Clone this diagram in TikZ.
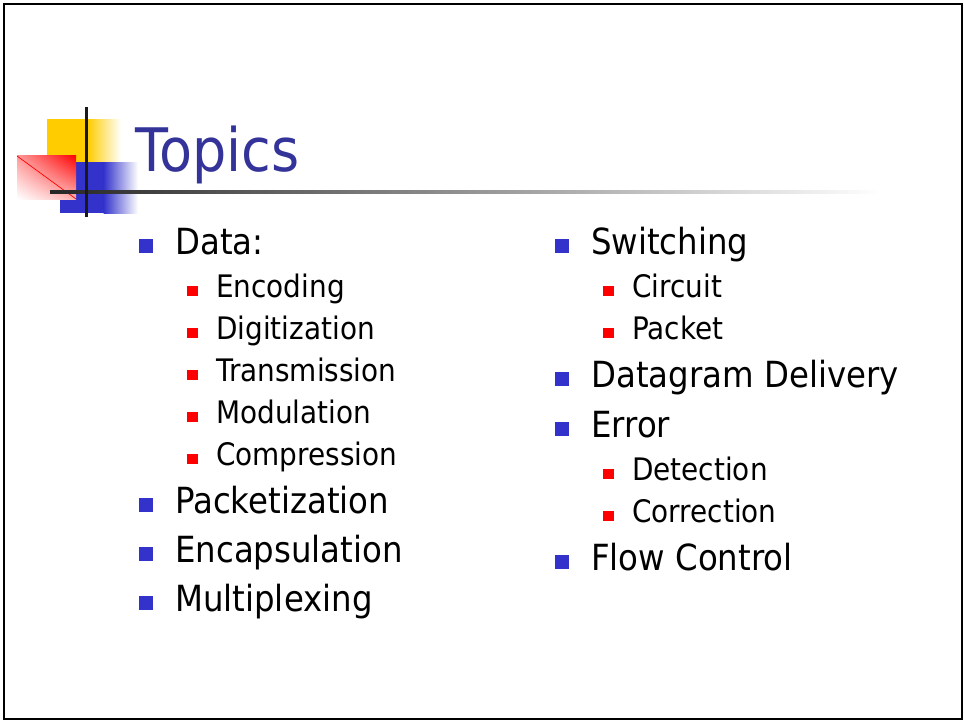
\documentclass[tikz,border=0pt]{standalone}
\usepackage{fontspec}
\usetikzlibrary{shadings}
\setmainfont{DejaVu Sans}[FakeStretch=0.9]
\definecolor{titleblue}{HTML}{333399}
\definecolor{bulblue}{HTML}{3333CC}
\definecolor{logoyellow}{HTML}{FFCC00}
\definecolor{logoblue}{HTML}{3333CC}
\definecolor{logored}{HTML}{FF0000}
\tikzset{
  mainitem/.style={anchor=base west, inner sep=0pt, font=\fontsize{36}{40}\selectfont, text=black},
  subitem/.style={anchor=base west, inner sep=0pt, font=\fontsize{31}{35}\selectfont, text=black},
  mainbullet/.style={fill=bulblue, draw=none},
  subbullet/.style={fill=logored, draw=none},
}
\begin{document}
\begin{tikzpicture}[x=1pt,y=-1pt]
\useasboundingbox (0,0) rectangle (964,721);
\fill[white] (0,0) rectangle (964,721);
% frame
\draw[line width=2pt, black] (3.5,4) rectangle (961.5,719);
% logo
\fill[logoyellow] (47,119) rectangle (88,162);
\shade[left color=logoyellow, right color=white] (87.5,119) rectangle (121,162);
\fill[logoblue] (60,162) rectangle (104,213);
\shade[left color=logoblue, right color=white] (103.5,162) rectangle (138,213);
\shade[upper left=red!40, upper right=red, lower left=white, lower right=red!30] (17,155) rectangle (76,199);
\draw[red, line width=0.7pt] (17,156) -- (76,199);
\shade[left color=black!85, right color=white] (50,190.8) rectangle (880,193.6);
\fill[black!90] (84.6,107) rectangle (87.6,217);
% title
\node[anchor=base west, inner sep=0pt, font=\fontsize{60}{64}\selectfont, text=titleblue] (title) at (135,171) {Topics};
% left column
\fill[mainbullet] (139,239) rectangle (153,253);
\node[mainitem] (data) at (175,254) {Data:};
\fill[subbullet] (187,286) rectangle (198,296);
\node[subitem] (enc) at (216,297) {Encoding};
\fill[subbullet] (187,328) rectangle (198,338);
\node[subitem] (dig) at (216,339) {Digitization};
\fill[subbullet] (187,370) rectangle (198,380);
\node[subitem] (tra) at (216,381) {Transmission};
\fill[subbullet] (187,412) rectangle (198,422);
\node[subitem] (mod) at (216,423) {Modulation};
\fill[subbullet] (187,454) rectangle (198,464);
\node[subitem] (com) at (216,465) {Compression};
\fill[mainbullet] (139,498) rectangle (153,512);
\node[mainitem] (pkt) at (175,513) {Packetization};
\fill[mainbullet] (139,547) rectangle (153,561);
\node[mainitem] (encap) at (175,562) {Encapsulation};
\fill[mainbullet] (139,596) rectangle (153,610);
\node[mainitem] (mux) at (175,611) {Multiplexing};
% right column
\fill[mainbullet] (555,239) rectangle (569,253);
\node[mainitem] (sw) at (591,254) {Switching};
\fill[subbullet] (603,286) rectangle (614,296);
\node[subitem] (circ) at (632,297) {Circuit};
\fill[subbullet] (603,328) rectangle (614,338);
\node[subitem] (pack) at (632,339) {Packet};
\fill[mainbullet] (555,372) rectangle (569,386);
\node[mainitem] (dd) at (591,387) {Datagram Delivery};
\fill[mainbullet] (555,422) rectangle (569,436);
\node[mainitem] (err) at (591,437) {Error};
\fill[subbullet] (603,469) rectangle (614,479);
\node[subitem] (det) at (632,480) {Detection};
\fill[subbullet] (603,511) rectangle (614,521);
\node[subitem] (corr) at (632,522) {Correction};
\fill[mainbullet] (555,555) rectangle (569,569);
\node[mainitem] (flow) at (591,570) {Flow Control};
\end{tikzpicture}
\end{document}
